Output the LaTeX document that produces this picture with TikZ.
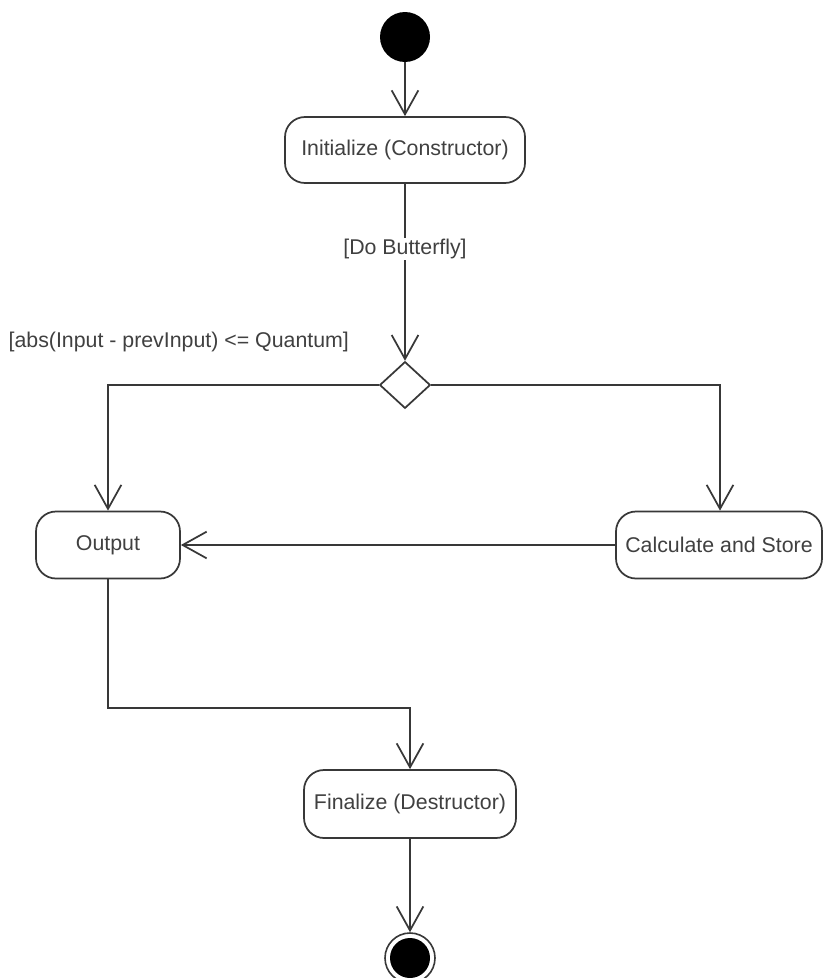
\documentclass[tikz,border=0pt]{standalone}
\usepackage{fontspec}
\setmainfont{Liberation Sans}
\usetikzlibrary{arrows.meta,shapes.geometric}
\definecolor{ink}{gray}{0.22}
\definecolor{txt}{gray}{0.25}
\begin{document}
\begin{tikzpicture}[x=0.75pt,y=-0.75pt,
  flow/.style={draw=ink,line width=1.3pt,-{Straight Barb[length=18pt,width=20pt,line width=1.3pt]}},
  action/.style={draw=ink,line width=1.3pt,rounded corners=15pt,fill=white,text=txt,
    font=\fontsize{16}{19}\selectfont,inner sep=0pt},
  guard/.style={text=txt,font=\fontsize{16}{19}\selectfont,inner sep=1pt},
  decision/.style={draw=ink,line width=1.3pt,diamond,fill=white,inner sep=0pt,
    minimum width=38pt,minimum height=35pt}]
\useasboundingbox (0,0) rectangle (823,978);
\fill[white] (0,0) rectangle (823,978);

% start and end states
\node[circle,fill=black,minimum size=50*0.75pt,inner sep=0pt] (start) at (405,37) {};
\node[circle,draw=ink,line width=1.2pt,minimum size=50*0.75pt,inner sep=0pt] (finish) at (410,958) {};
\fill[black] (finish.center) circle[radius=20];

% actions
\node[action,minimum width=240*0.75pt,minimum height=66*0.75pt] (init) at (405,150) {Initialize (Constructor)};
\node[action,minimum width=144*0.75pt,minimum height=67*0.75pt] (output) at (108,545) {Output};
\node[action,minimum width=206*0.75pt,minimum height=67*0.75pt] (calc) at (719,545) {Calculate and Store};
\node[action,minimum width=212*0.75pt,minimum height=68*0.75pt] (final) at (410,804) {Finalize (Destructor)};

% decision
\node[decision] (dec) at (405,385) {};

% flows
\draw[flow] (start.south) -- (init.north);
\draw[flow] (init.south) -- (dec.north);
\node[guard,fill=white] (g1) at (405,249) {[Do Butterfly]};
\draw[flow] (dec.west) -| (output.north);
\node[guard,anchor=west] (g2) at (7,342) {[abs(Input - prevInput) <= Quantum]};
\draw[flow] (dec.east) -| ([xshift=1*0.75pt]calc.north);
\draw[flow] (calc.west) -- (output.east);
\coordinate (bend) at (108,708);
\draw[flow] (output.south) -- (bend) -| (final.north);
\draw[flow] (final.south) -- (finish.north);
\end{tikzpicture}
\end{document}
